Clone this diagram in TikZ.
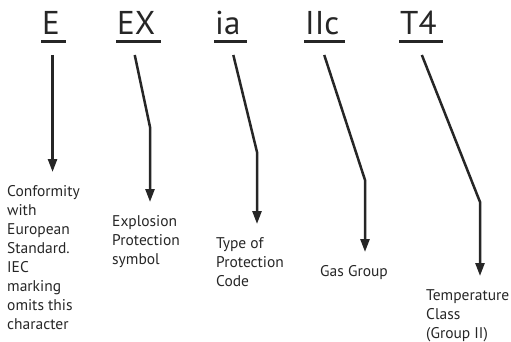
\documentclass[tikz,border=0pt]{standalone}
\usepackage{fontspec}
\setmainfont{PT Sans}
\usetikzlibrary{arrows.meta,positioning}

\tikzset{
  code/.style={anchor=base west, inner sep=0pt, font=\fontsize{33}{33}\selectfont, text=black!85},
  desc/.style={anchor=north west, inner sep=0pt, align=left, font=\fontsize{15.5}{19}\selectfont, text=black!85},
  uline/.style={line width=3pt, draw=black!85},
  pointer/.style={line width=2.5pt, draw=black!85, -{Triangle[width=9pt,length=13pt]}},
}

\begin{document}
\begin{tikzpicture}[x=1pt,y=-1pt]
  \useasboundingbox (0,0) rectangle (511,342);

  % marking codes
  \node[code] (e)   at (42,35)  {E};
  \node[code] (ex)  at (117,35) {EX};
  \node[code] (ia)  at (215,35) {ia};
  \node[code] (iic) at (305,35) {IIc};
  \node[code] (tf)  at (400,35) {T4};
  \foreach \n in {e,ex,ia,iic,tf}
    \draw[uline] ([xshift=-1pt,yshift=-6.5pt]\n.base west) -- ([xshift=6pt,yshift=-6.5pt]\n.base east);

  % meanings
  \node[desc] (e-desc)   at (7,185)   {Conformity\\with\\European\\Standard.\\IEC\\marking\\omits this\\character};
  \node[desc] (ex-desc)  at (112,215) {Explosion\\Protection\\symbol};
  \node[desc] (ia-desc)  at (216,237) {Type of\\Protection\\Code};
  \node[desc] (iic-desc) at (320,265) {Gas Group};
  \node[desc] (tf-desc)  at (426,289) {Temperature\\Class\\(Group II)};

  % pointers
  \coordinate (e-top) at ([xshift=1.5pt,yshift=-20pt]e.base);
  \coordinate (e-tip) at ([yshift=13pt]e-desc.north);
  \draw[pointer] (e-top) -- (e-top |- e-tip);
  \foreach \n/\dx/\bx/\by in {ex/-1.5/150/127, ia/5.5/257/152, iic/2/365/180, tf/3.5/480/202} {
    \coordinate (\n-bend) at (\bx,\by);
    \coordinate (\n-tip) at ([yshift=13pt]\n-desc.north);
    \draw[pointer] ([xshift=\dx pt,yshift=-20pt]\n.base) -- (\n-bend) -- (\n-bend |- \n-tip);
  }
\end{tikzpicture}
\end{document}
